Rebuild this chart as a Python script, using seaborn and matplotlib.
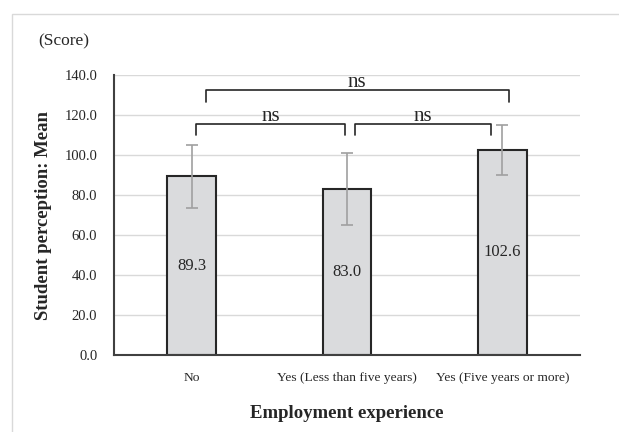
import matplotlib
matplotlib.use("Agg")
import matplotlib.pyplot as plt
import seaborn as sns
import pandas as pd
from matplotlib.patches import Rectangle

# Group means and standard deviations
categories = ["No", "Yes (Less than five years)", "Yes (Five years or more)"]
means = [89.3, 83.0, 102.6]
sds = [15.6, 17.8, 12.5]
yticks = [0, 20, 40, 60, 80, 100, 120, 140]

# Pairwise comparison brackets: start, end, bracket height, label
pairs_start = [0.03, 1.05, 0.09]
pairs_end = [0.99, 1.93, 2.04]
pairs_y = [115.5, 115.5, 132.5]
pairs_label = ["ns", "ns", "ns"]

df = pd.DataFrame({"group": categories, "mean": means})

sns.set_theme(style="white")
plt.rcParams["font.family"] = ["Liberation Serif", "DejaVu Serif"]

fig = plt.figure(figsize=(6.19, 4.32), dpi=100)
ax = fig.add_axes([114 / 619, 1 - 355 / 432, (580 - 114) / 619, (355 - 75) / 432])

# Outer frame of the chart area
fig.patches.append(Rectangle((12 / 619, -0.1), 1.2, (432 - 14) / 432 + 0.1,
                             transform=fig.transFigure, fill=False,
                             edgecolor="#d9d9d9", linewidth=1.0))

sns.barplot(data=df, x="group", y="mean", order=categories, ax=ax,
            color="#dadbdd", edgecolor="#262626", linewidth=1.5,
            width=0.315, errorbar=None, saturation=1, zorder=2)

ax.errorbar(range(len(categories)), means, yerr=sds, fmt="none",
            ecolor="#a0a0a0", elinewidth=1.2, capsize=4, capthick=1.2, zorder=3)

ax.bar_label(ax.containers[0], labels=[f"{m:.1f}" for m in means],
             label_type="center", fontsize=12, color="#262626")

ax.set_xlim(-0.5, 2.5)
ax.set_ylim(0, 140)
ax.set_yticks(yticks)
ax.set_yticklabels([f"{v:.1f}" for v in yticks], fontsize=10.5, color="#262626")
ax.tick_params(axis="x", labelsize=9.7, colors="#262626", length=0, pad=12)
ax.tick_params(axis="y", length=0, pad=12)

ax.yaxis.grid(True, color="#d9d9d9", linewidth=1.0, zorder=0)
ax.set_axisbelow(True)
for side in ["top", "right"]:
    ax.spines[side].set_visible(False)
for side in ["left", "bottom"]:
    ax.spines[side].set_color("#404040")
    ax.spines[side].set_linewidth(1.5)

ax.set_xlabel("Employment experience", fontsize=13.5, fontweight="bold",
              color="#262626", labelpad=15)
ax.set_ylabel("Student perception: Mean", fontsize=13.5, fontweight="bold",
              color="#262626", labelpad=9)

# Significance brackets
drop = [5.5, 5.5, 6.2]
for x0, x1, y, d, lab in zip(pairs_start, pairs_end, pairs_y, drop, pairs_label):
    ax.plot([x0, x0, x1, x1], [y - d, y, y, y - d], color="#262626",
            linewidth=1.2, clip_on=False, zorder=4)
    ax.text((x0 + x1) / 2, y + 1.5, lab, ha="center", va="baseline",
            fontsize=15, color="#262626")

fig.text(38 / 619, 1 - 41 / 432, "(Score)", ha="left", va="center",
         fontsize=12.5, color="#262626")

fig.savefig("out.png", dpi=100)
